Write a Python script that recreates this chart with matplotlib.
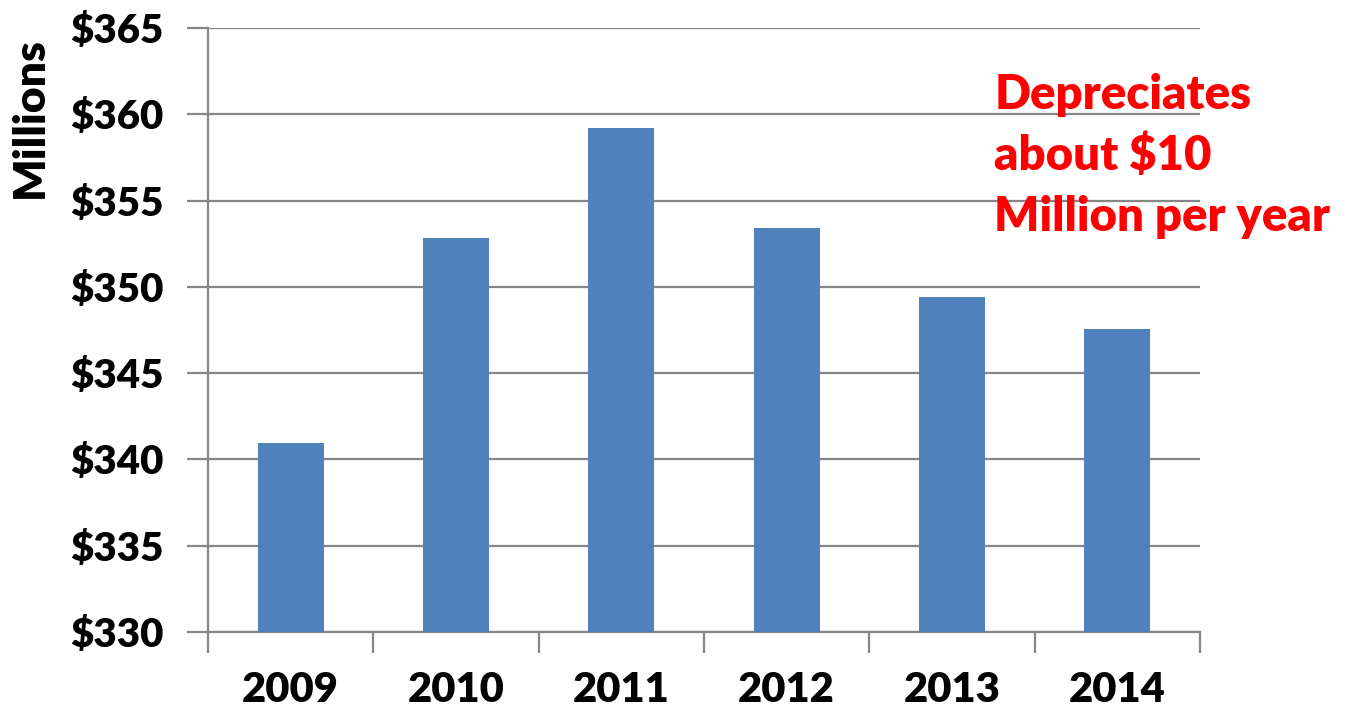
import matplotlib.pyplot as plt

years = ['2009', '2010', '2011', '2012', '2013', '2014']
values = [340.95, 352.85, 359.2, 353.4, 349.4, 347.55]
yticks = [330, 335, 340, 345, 350, 355, 360, 365]

plt.rcParams['font.family'] = ['Lato', 'DejaVu Sans']
weight = 'heavy'

fig = plt.figure(figsize=(13.53, 7.13), dpi=100)
ax = fig.add_axes([0.1537, 0.1136, 0.8869 - 0.1537, 0.9607 - 0.1136])

grid_col = '#868686'
x = list(range(len(years)))
ax.bar(x, values, width=0.4, color='#4F81BD', zorder=3)

ax.set_xlim(-0.5, len(years) - 0.5)
ax.set_ylim(330, 365)
ax.set_yticks(yticks)
ax.set_yticklabels(['$%d' % v for v in yticks], fontsize=29, fontweight=weight)
ax.yaxis.grid(True, color=grid_col, linewidth=1.6, zorder=0)

# category labels centred, ticks at the boundaries
ax.set_xticks(x)
ax.set_xticklabels(years, fontsize=30, fontweight=weight)
ax.tick_params(axis='x', length=0, pad=28)
ax.set_xticks([i - 0.5 for i in range(len(years) + 1)], minor=True)
ax.tick_params(axis='x', which='minor', length=15, width=1.6, color=grid_col)
ax.tick_params(axis='y', length=15, width=1.6, color=grid_col, pad=17)

for side in ['top', 'right']:
    ax.spines[side].set_visible(False)
for side in ['left', 'bottom']:
    ax.spines[side].set_color(grid_col)
    ax.spines[side].set_linewidth(1.6)

fig.text(0.022, 0.835, 'Millions', rotation=90, fontsize=32, fontweight=weight,
         ha='center', va='center')

fig.text(0.735, 0.897, 'Depreciates\nabout $10\nMillion per year', color='red',
         fontsize=34, fontweight=weight, ha='left', va='top', linespacing=1.45)

fig.savefig('out.png', dpi=100)
